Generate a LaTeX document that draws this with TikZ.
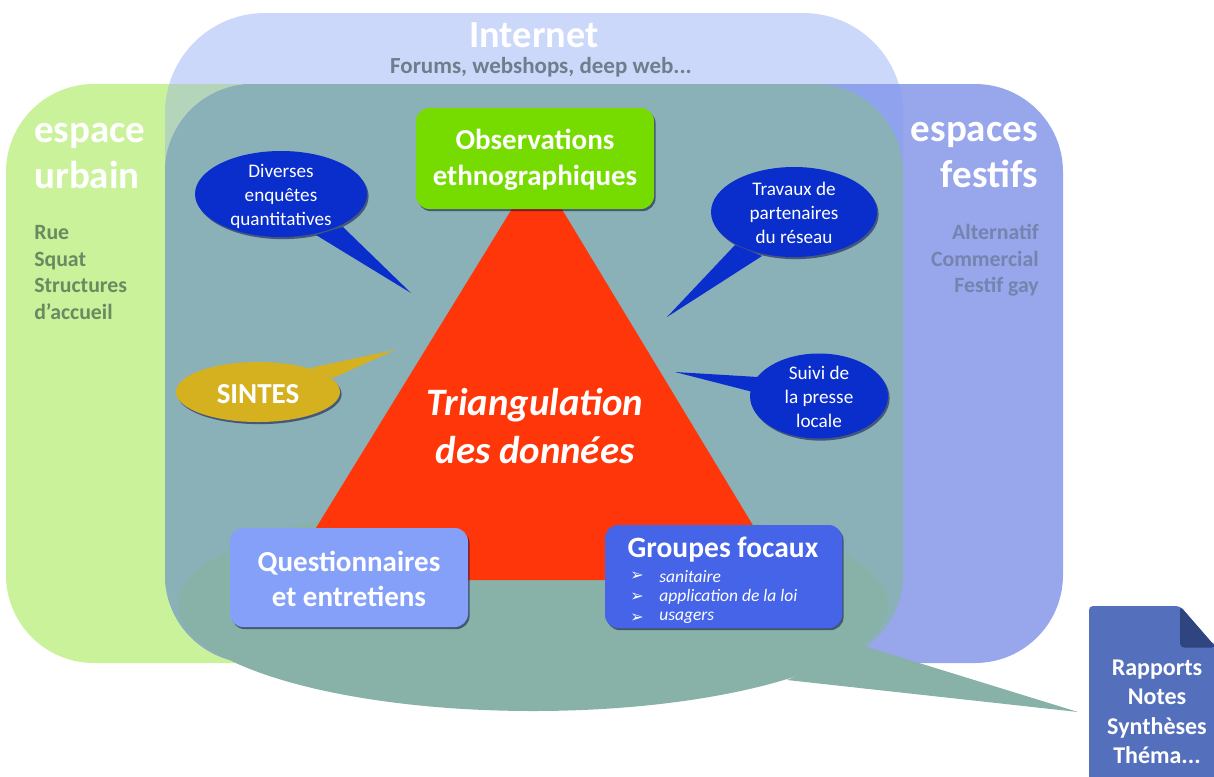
\documentclass[tikz,border=0pt]{standalone}
\usepackage{fontspec}
\setmainfont{Carlito}
\newfontfamily\symfont{DejaVu Sans}
\usetikzlibrary{shapes.geometric,shadows,calc}
\definecolor{urbanc}{HTML}{C9F29A}
\definecolor{netc}{HTML}{CBD8F9}
\definecolor{festc}{HTML}{98A6EC}
\definecolor{lightc}{HTML}{B4D5BA}
\definecolor{festnet}{HTML}{8FA2EE}
\definecolor{tealc}{HTML}{8AB0B8}
\definecolor{callc}{HTML}{88B2A8}
\definecolor{redc}{HTML}{FF360A}
\definecolor{bubblec}{HTML}{0A2ECC}
\definecolor{gold}{HTML}{D6B11F}
\definecolor{obsc}{HTML}{76DC00}
\definecolor{quesc}{HTML}{85A0F8}
\definecolor{grpc}{HTML}{4664E8}
\definecolor{docc}{HTML}{5470BC}
\definecolor{foldc}{HTML}{2E4580}
\definecolor{urbtxt}{HTML}{6C8A62}
\definecolor{festxt}{HTML}{7484AE}
\definecolor{nettxt}{HTML}{6E7E8C}
\newcommand{\fs}[2]{\fontsize{\fpeval{#1*0.75}}{\fpeval{#2*0.75}}\selectfont}
\tikzset{
  softshadow/.style={drop shadow={shadow xshift=1.2pt,shadow yshift=-1.6pt,opacity=.5,fill=black!75!blue}},
  box/.style={draw=none,rounded corners=10pt,text=white,align=center,inner sep=0pt,softshadow},
  bubble/.style={ellipse,fill=bubblec,text=white,align=center,inner sep=0pt,softshadow},
  bubbletext/.style={inner sep=0pt,align=center,text=white,font=\fs{19.2}{24}},
  title/.style={text=white,inner sep=0pt,font=\bfseries\fs{39}{46}},
  listtxt/.style={inner sep=0pt,font=\bfseries\fs{21.8}{26.4}}
}
\def\urbanpath{(6,84) [rounded corners=66pt] rectangle (903,663)}
\def\festpath{(165,84) [rounded corners=66pt] rectangle (1063,663)}
\def\netpath{(165,13) [rounded corners=75pt] rectangle (903,600)}
\begin{document}
\begin{tikzpicture}[x=0.75pt,y=-0.75pt]
\useasboundingbox (0,0) rectangle (1214,776);
% spaces
\fill[netc] \netpath;
\fill[urbanc] \urbanpath;
\fill[festc] \festpath;
\begin{scope}\clip \urbanpath; \fill[lightc] \netpath; \end{scope}
\begin{scope}\clip \festpath; \fill[festnet] \netpath; \end{scope}
\begin{scope}\clip \urbanpath; \fill[tealc] \festpath; \end{scope}
% result callout
\fill[callc] (533,605) ellipse [x radius=355,y radius=106];
\fill[callc] (864,646) -- (1078,712) -- (787,680) -- cycle;
% triangle
\fill[redc] (537,168) -- (284,580) -- (786,580) -- cycle;
% space titles
\node[title,anchor=center,align=center,font=\bfseries\fs{38.3}{40}] (net) at (534,35) {Internet};
\node[anchor=center,inner sep=0pt,text=nettxt,font=\bfseries\fs{23}{26}] (forums) at (541,67.5) {Forums, webshops, deep web...};
\node[title,anchor=north west,align=left] (urb) at (34,123) {espace\\urbain};
\node[listtxt,anchor=north west,align=left,text=urbtxt] (urblist) at (34,225.5) {Rue\\Squat\\Structures\\d’accueil};
\node[title,anchor=north east,align=right] (fest) at (1038,122) {espaces\\festifs};
\node[listtxt,anchor=north east,align=right,text=festxt] (festlist) at (1039,224) {Alternatif\\Commercial\\Festif gay};
% bubbles
\node[bubble,minimum width=129pt,minimum height=64.5pt] (div) at (281,194) {};
\fill[bubblec] (343,227) -- (411,293) -- (316,235) -- cycle;
\node[bubbletext] (divt) at (281,196) {Diverses\\enquêtes\\quantitatives};
\node[bubble,minimum width=124.5pt,minimum height=67.5pt] (trav) at (794,212) {};
\fill[bubblec] (735,245) -- (667,317) -- (762,256) -- cycle;
\node[bubbletext] (travt) at (794,213) {Travaux de\\partenaires\\du réseau};
\node[bubble,minimum width=103.5pt,minimum height=63.75pt] (suivi) at (819,396) {};
\fill[bubblec] (758,377) -- (675,372) -- (753,392) -- cycle;
\node[bubbletext] (suivit) at (819,397) {Suivi de\\la presse\\locale};
\node[ellipse,fill=gold,inner sep=0pt,minimum width=123pt,minimum height=45pt,softshadow] (sint) at (258,392) {};
\fill[gold] (310,368) -- (395,350) -- (333,378) -- cycle;
\node[inner sep=0pt,text=white,font=\bfseries\fs{29}{32}] (sintt) at (258,394) {SINTES};
% boxes
\node[box,fill=obsc,minimum width=178.5pt,minimum height=75.75pt] (obs) at (535,158.5) {};
\node[text=white,inner sep=0pt,align=center,font=\bfseries\fs{29}{36}] (obst) at (535,160) {Observations\\ethnographiques};
\node[box,fill=quesc,minimum width=178.5pt,minimum height=74.25pt] (ques) at (349,577.5) {};
\node[text=white,inner sep=0pt,align=center,font=\bfseries\fs{29}{35}] (quest) at (349,579) {Questionnaires\\et entretiens};
\node[box,fill=grpc,minimum width=177.75pt,minimum height=77.25pt] (grp) at (723.5,576.5) {};
\node[text=white,inner sep=0pt,font=\bfseries\fs{29.5}{32}] (grpt) at (723,550) {Groupes focaux};
\foreach \n/\y/\t in {a/576.5/sanitaire,b/597/application de la loi,c/618/usagers}{
  \node[inner sep=0pt,text=white,font=\symfont\fs{16}{18}] (bul\n) at (637,\y) {➢};
  \node[inner sep=0pt,text=white,anchor=west,font=\itshape\fs{17.5}{20}] (item\n) at (659,\y) {\t};
}
% central label
\node[inner sep=0pt,align=center,text=white,font=\bfseries\itshape\fs{38.8}{48}] (tri) at (535,426) {Triangulation\\des données};
% document
\begin{scope}
\clip (1089,606) rectangle (1214,776);
\fill[docc,rounded corners=3pt] (1089,606) -- (1180,606) -- (1214,645) -- (1230,645) -- (1230,790) -- (1089,790) -- cycle;
\fill[foldc,rounded corners=3pt] (1180,606) -- (1216,647.5) -- (1180,647.5) -- cycle;
\end{scope}
\node[inner sep=0pt,align=center,text=white,font=\bfseries\fs{24}{29.5}] (doc) at (1157,712) {Rapports\\Notes\\Synthèses\\Théma...};
\end{tikzpicture}
\end{document}
